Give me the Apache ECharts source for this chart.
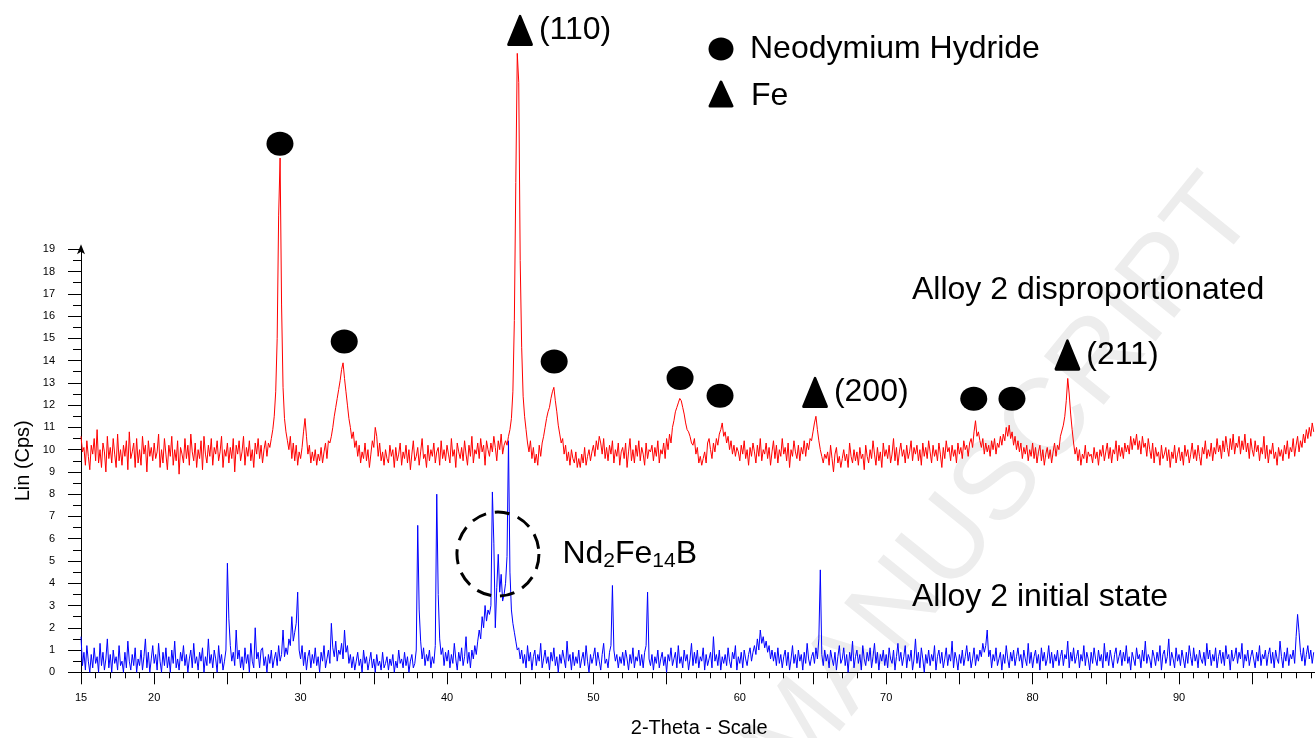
<!DOCTYPE html>
<html><head><meta charset="utf-8">
<script src="https://cdn.jsdelivr.net/npm/echarts@6/dist/echarts.min.js"></script>
<style>html,body{margin:0;padding:0;background:#fff}#chart{width:1315px;height:738px}</style>
</head><body><div id="chart"></div>
<script>
// sampling grid of the scans (2-theta, degrees)
const X_START = 15, X_STEP = 0.1;

// Alloy 2 disproportionated (red), one row per degree
const redCps = [
10.6,9.9,10.1,9.3,10.4,9.7,9.1,10.2,9.8,10.5,
9.5,10.9,9.4,10.0,9.2,10.3,9.9,9.0,10.6,9.6,
10.1,9.4,10.5,9.8,9.2,10.7,9.5,10.0,9.3,10.2,
9.7,10.4,9.1,10.8,9.6,9.9,10.3,9.2,10.5,9.4,
10.0,9.3,10.6,9.8,10.2,9.0,10.4,9.7,10.1,9.5,
10.3,9.6,9.9,10.7,9.2,10.0,9.4,10.5,9.8,9.1,
10.2,9.7,10.6,9.3,10.0,9.5,10.4,8.9,10.1,9.8,
9.4,10.5,9.6,10.2,9.3,10.7,9.9,9.5,10.3,9.2,
10.0,9.6,10.4,9.1,10.6,9.8,9.4,10.2,9.7,10.5,
9.3,10.1,9.8,10.4,9.5,9.9,10.6,9.2,10.0,9.7,
10.3,9.4,10.1,9.6,10.5,9.0,10.2,9.8,10.4,9.5,
9.9,10.6,9.3,10.1,9.7,10.4,9.5,10.0,9.2,10.3,
9.8,10.5,9.6,10.2,9.4,10.0,10.4,9.7,10.3,10.1,
10.5,10.9,11.5,12.6,15.0,20.5,23.1,16.5,12.8,11.4,
10.8,10.4,10.0,10.6,9.6,10.3,9.5,10.2,9.3,9.9,
9.6,10.1,10.8,11.4,10.6,9.8,10.2,9.4,9.9,9.5,
10.0,9.3,9.8,9.5,10.1,9.4,9.9,10.3,9.6,10.4,
10.3,10.6,11.0,11.5,11.9,12.3,12.7,13.1,13.6,13.9,
13.2,12.6,12.0,11.4,11.0,10.5,10.8,10.1,10.4,9.7,
10.2,9.4,9.9,9.6,10.3,9.5,10.0,9.2,9.8,10.4,
10.1,11.0,10.6,9.7,10.3,9.5,9.9,9.3,10.0,9.6,
9.4,10.2,9.7,10.0,9.2,10.1,9.5,9.8,10.3,9.3,
9.9,9.6,10.2,9.4,10.0,9.1,9.8,10.4,9.5,9.7,
10.1,9.3,9.9,10.5,9.6,9.8,9.2,10.2,9.5,10.0,
9.7,10.3,9.4,9.9,10.1,9.3,10.4,9.6,10.0,9.5,
10.2,9.8,9.4,10.5,9.7,10.0,9.2,10.3,9.9,9.6,
10.1,9.5,10.4,9.8,9.3,10.2,9.7,10.6,9.4,10.0,
9.8,10.3,9.6,10.5,9.9,10.2,9.3,10.4,10.0,9.7,
10.3,9.9,10.6,10.1,9.5,10.4,10.0,10.7,9.8,10.2,
10.4,10.2,10.6,10.9,11.4,12.6,15.8,22.0,27.8,26.5,
18.5,14.6,12.4,11.5,10.9,10.3,9.9,10.4,9.6,10.1,
9.4,9.8,9.3,10.2,9.7,10.3,10.6,11.0,11.4,11.7,
11.9,12.3,12.6,12.8,12.2,11.7,11.1,10.7,10.3,10.5,
9.8,10.2,9.5,9.9,9.3,10.0,9.6,9.4,9.9,9.2,
9.6,9.2,9.8,9.4,10.1,9.3,9.7,10.0,9.5,9.9,
10.2,9.7,10.4,10.0,10.6,10.3,9.8,10.5,9.6,10.1,
9.5,10.2,9.8,10.4,9.4,10.0,9.7,10.3,9.3,9.9,
10.1,9.6,10.3,9.2,9.9,10.5,9.5,10.0,9.4,10.2,
9.7,10.4,9.5,10.1,9.8,9.3,10.3,9.6,10.0,9.9,
10.2,9.5,10.1,9.7,10.4,9.4,10.0,9.8,10.3,9.6,
10.5,10.0,10.7,10.3,11.0,11.3,11.7,11.9,12.1,12.3,
12.2,11.9,11.6,11.2,10.9,10.8,10.6,10.3,10.2,10.5,
9.8,10.1,9.4,9.7,9.3,9.6,9.9,9.4,10.3,10.5,
10.0,9.6,10.3,9.9,10.5,10.2,10.7,10.9,11.2,10.6,
10.8,10.3,10.6,10.0,10.4,9.8,10.2,9.7,10.1,9.9,
9.5,10.2,9.8,10.4,9.6,10.0,9.3,10.1,9.7,10.3,
9.9,9.4,10.2,9.7,10.5,9.5,10.0,9.8,10.3,9.6,
10.1,9.3,9.9,10.4,9.6,10.2,9.4,10.0,9.7,10.5,
9.8,10.1,9.5,10.3,9.2,10.0,9.7,10.4,9.9,9.6,
10.2,9.5,10.1,9.8,10.4,9.7,10.3,10.0,10.5,10.4,
10.8,11.2,11.5,10.9,10.4,10.0,9.7,9.4,9.8,9.6,
9.9,9.3,10.2,9.6,9.0,9.8,10.1,9.4,9.7,9.2,
9.6,10.0,9.5,9.8,9.2,10.3,9.7,9.4,10.0,9.5,
9.9,9.3,10.1,9.6,9.8,9.1,10.2,9.7,9.4,10.0,
9.6,10.4,9.8,9.3,10.1,9.5,9.9,9.2,10.3,9.7,
10.0,9.6,10.2,9.4,9.8,10.5,9.5,10.1,9.3,9.9,
10.3,9.7,10.0,9.4,10.2,9.6,9.9,10.4,9.5,10.1,
9.8,10.2,9.5,10.0,9.3,10.3,9.7,10.1,9.6,10.4,
9.9,9.4,10.2,9.7,10.0,9.5,10.3,9.8,9.2,10.1,
9.6,10.4,9.9,10.1,9.5,10.2,9.7,10.0,9.4,10.3,
9.8,10.1,9.6,10.4,10.0,10.2,9.7,10.3,10.5,10.1,
10.8,11.3,10.6,10.8,10.4,10.1,10.5,9.8,10.3,9.9,
10.2,9.7,10.4,10.0,10.5,9.8,10.3,10.1,10.6,10.2,
10.7,10.4,11.0,10.6,11.1,10.5,10.8,10.2,10.6,10.0,
10.4,9.9,10.3,9.6,10.1,9.8,10.2,9.5,10.0,9.7,
10.3,9.6,10.1,9.4,9.9,10.2,9.5,10.0,9.3,9.8,
10.1,9.6,10.0,9.4,9.9,10.3,9.7,10.2,10.0,10.6,
10.6,11.1,11.5,12.2,13.2,12.5,11.6,10.9,10.3,9.8,
10.1,9.5,10.0,9.3,9.8,9.6,10.2,9.4,9.9,9.7,
9.8,9.4,10.1,9.6,9.9,9.3,10.0,9.7,10.2,9.5,
9.9,10.3,9.6,10.1,9.4,10.0,9.8,10.4,9.5,10.2,
9.7,10.1,9.6,10.3,9.9,10.2,9.8,10.6,10.0,10.5,
10.2,10.7,10.0,10.4,9.8,10.6,10.1,10.3,9.7,10.5,
10.0,9.6,10.3,9.4,10.1,9.7,9.9,9.3,10.2,9.6,
9.8,10.1,9.5,10.0,9.2,9.9,9.6,10.2,9.4,9.8,
10.1,9.5,9.9,9.3,10.2,9.7,10.0,9.4,9.8,10.3,
9.6,10.0,9.5,10.2,9.7,9.3,10.1,9.8,10.4,9.6,
10.0,9.7,10.3,9.5,10.1,9.8,10.5,9.9,10.2,9.6,
10.4,9.9,10.6,10.1,9.7,10.5,10.0,10.7,9.8,10.3,
10.1,10.6,9.8,10.4,10.0,10.7,9.9,10.3,9.6,10.5,
10.0,9.7,10.4,9.9,10.2,9.5,10.1,9.8,10.6,9.6,
10.2,9.4,10.0,9.8,10.3,9.6,9.9,9.3,10.1,9.7,
10.0,9.5,10.2,9.8,10.4,9.6,10.1,9.9,10.5,9.7,
10.2,10.6,9.9,10.4,10.1,10.7,10.3,10.9,10.5,11.0,
10.6,11.2,10.8
];

// Alloy 2 initial state (blue), one row per degree
const blueCps = [
1.6,0.3,0.9,0.1,1.2,0.5,0.0,0.8,0.2,1.1,
0.4,0.7,0.0,1.3,0.3,0.9,0.1,0.6,1.5,0.2,
0.8,0.0,1.0,0.4,0.7,0.1,1.2,0.3,0.5,0.0,
0.9,0.2,1.4,0.5,0.1,0.8,0.3,1.1,0.0,0.6,
0.3,1.0,0.1,0.7,1.5,0.2,0.9,0.0,0.6,1.2,
0.4,0.8,0.1,1.3,0.5,0.0,0.9,0.3,1.1,0.2,
0.7,0.0,1.0,0.4,1.4,0.2,0.6,0.1,0.9,0.5,
1.2,0.3,0.8,0.0,0.6,1.0,0.2,1.3,0.4,0.7,
0.1,0.9,0.5,1.1,0.0,0.7,0.3,1.5,0.4,0.8,
0.2,1.0,0.6,0.0,1.2,0.4,0.8,0.1,0.5,1.0,
4.9,2.4,1.2,0.5,0.9,0.3,1.9,0.6,1.0,0.2,
0.7,0.1,1.1,0.4,0.8,0.0,1.3,0.5,0.2,2.0,
0.6,0.9,0.2,1.0,1.1,0.3,0.7,0.0,0.8,0.4,
1.0,0.2,0.6,0.9,0.3,1.2,0.5,0.8,1.9,0.7,
1.1,0.8,1.5,1.2,2.5,1.4,1.8,2.2,3.6,1.0,
0.6,1.2,0.3,0.9,0.1,0.7,1.0,0.2,0.8,0.4,
1.1,0.3,0.7,0.0,0.9,0.5,1.2,0.2,0.6,1.0,
0.4,2.2,1.1,0.7,1.4,0.5,1.0,0.8,1.3,0.6,
1.9,0.9,1.2,0.4,0.8,0.2,0.7,0.1,0.5,0.9,
0.3,0.6,0.0,1.0,0.4,0.7,0.1,0.5,0.9,0.2,
0.6,0.0,0.8,0.3,0.5,0.1,0.9,0.2,0.4,0.7,
0.1,0.6,0.3,0.8,0.0,0.5,0.2,1.0,0.4,0.6,
0.2,0.9,0.3,0.7,0.0,0.5,0.8,0.2,0.4,1.0,
6.6,2.8,1.4,0.6,1.1,0.3,0.8,0.5,1.0,0.2,
0.7,0.4,1.2,8.0,3.5,1.5,0.8,1.1,0.3,0.9,
0.5,1.0,0.2,0.8,0.4,1.3,0.6,0.1,0.9,0.5,
1.1,0.3,0.7,1.6,0.4,0.9,0.2,1.0,0.6,1.2,
0.8,1.4,1.9,1.5,2.5,2.0,3.0,2.3,2.8,2.6,
3.0,8.1,5.8,2.0,3.8,5.3,3.6,4.4,3.2,3.5,
4.0,5.2,10.4,4.5,2.8,2.2,1.8,1.4,1.0,1.1,
0.6,1.0,0.4,0.8,0.2,1.2,0.5,0.9,0.1,0.7,
1.0,0.3,0.8,0.5,1.3,0.2,0.6,1.0,0.4,0.7,
0.1,0.9,0.5,1.1,0.3,0.7,0.0,0.8,0.4,1.0,
0.6,0.2,1.4,0.5,0.8,0.1,0.9,0.3,0.7,0.4,
1.0,0.2,0.6,0.9,0.3,1.2,0.5,0.0,0.8,0.4,
0.7,1.1,0.3,0.9,0.5,0.1,0.8,1.3,0.4,0.6,
0.2,0.9,1.2,3.9,1.0,0.5,0.8,0.2,0.7,0.4,
0.9,0.3,1.0,0.6,0.1,0.8,0.4,1.1,0.2,0.7,
0.5,1.0,0.3,0.8,0.2,0.9,1.2,3.6,0.6,0.3,
0.8,0.1,0.7,0.4,1.0,0.2,0.6,0.9,0.3,0.7,
0.0,0.8,0.5,1.1,0.3,0.6,0.9,0.2,1.2,0.4,
0.7,0.2,1.0,0.5,0.8,0.1,0.6,1.3,0.3,0.9,
0.4,1.0,0.2,0.7,0.5,1.1,0.1,0.8,0.3,0.6,
0.9,0.2,1.6,0.5,0.8,0.3,1.0,0.1,0.7,0.4,
0.8,0.3,1.1,0.5,0.2,0.9,0.6,1.2,0.1,0.7,
0.4,0.9,0.2,1.0,0.6,0.3,0.8,1.1,0.5,0.9,
1.2,0.8,1.5,1.0,1.9,1.3,1.6,1.1,1.4,0.9,
1.2,0.6,1.0,0.5,0.9,0.3,1.1,0.4,0.8,0.2,
0.7,1.0,0.3,0.9,0.1,0.6,1.2,0.4,0.8,0.2,
1.0,0.5,0.8,0.1,0.9,0.4,1.3,0.6,0.3,0.7,
0.9,0.4,1.1,0.6,1.5,4.6,0.8,0.3,1.0,0.5,
0.8,0.2,1.0,0.6,0.3,0.9,0.1,0.7,1.2,0.4,
0.6,1.1,0.3,0.8,0.0,0.9,0.5,1.4,0.2,0.7,
1.0,0.4,0.8,0.1,1.2,0.6,0.3,0.9,0.5,1.1,
0.2,0.7,1.3,0.4,0.9,0.1,0.8,0.5,1.0,0.3,
0.8,0.2,1.1,0.6,0.4,1.0,0.1,0.7,1.3,0.5,
0.9,0.3,0.7,1.2,0.2,0.8,0.5,1.0,0.1,0.6,
1.5,0.4,0.9,0.2,1.1,0.6,0.0,0.8,0.4,1.0,
0.3,0.8,0.5,1.2,0.1,0.7,1.0,0.4,0.9,0.2,
0.6,1.1,0.3,0.8,0.5,1.4,0.2,0.9,0.6,0.1,
0.8,0.4,1.0,0.3,0.7,1.2,0.5,0.9,0.2,0.6,
1.1,0.3,0.8,0.5,1.0,0.7,1.3,0.9,1.2,1.9,
0.7,1.0,0.2,0.8,0.5,1.1,0.3,0.6,0.9,0.1,
0.8,0.4,1.2,0.6,0.2,0.9,0.5,1.0,0.3,0.7,
1.1,0.5,0.8,0.2,1.0,0.6,0.3,1.3,0.4,0.9,
0.2,0.7,1.0,0.4,0.8,0.1,1.1,0.5,0.9,0.3,
0.6,1.2,0.4,0.9,0.2,0.8,0.5,1.0,0.3,0.7,
1.0,0.3,0.8,0.6,1.4,0.2,0.9,0.5,1.1,0.4,
0.7,1.0,0.2,0.8,0.5,1.2,0.3,0.9,0.6,0.1,
0.9,0.4,1.1,0.6,0.3,1.0,0.5,0.8,0.2,1.3,
0.5,0.9,0.3,1.0,0.6,0.2,0.8,1.1,0.4,0.7,
1.0,0.3,0.9,0.5,1.2,0.4,0.7,0.1,0.9,0.6,
0.3,1.1,0.6,0.8,0.2,1.0,0.5,1.4,0.4,0.8,
0.6,0.2,1.0,0.7,0.3,0.9,0.5,1.2,0.1,0.8,
1.0,0.4,0.7,1.5,0.3,0.9,0.6,0.2,1.1,0.5,
0.8,0.3,1.0,0.6,0.2,0.9,0.4,1.2,0.7,0.3,
1.1,0.5,0.8,0.2,1.0,0.6,0.4,0.9,0.3,1.3,
0.6,1.0,0.3,0.8,0.5,1.1,0.2,0.7,1.0,0.4,
0.9,0.3,1.2,0.6,0.8,0.1,1.0,0.5,0.7,1.1,
0.4,0.9,0.6,1.3,0.2,0.8,0.5,1.0,0.3,0.7,
1.0,0.6,0.2,0.9,0.5,1.2,0.3,0.8,0.6,1.0,
0.3,0.8,1.1,0.4,0.9,0.2,1.0,0.6,0.4,1.4,
0.7,0.2,0.9,0.5,1.1,0.3,0.8,0.6,1.0,0.4,
1.6,2.6,1.8,0.9,0.5,1.1,0.3,0.8,1.2,0.6,
1.0,0.4,0.9
];

// peak annotation anchors [2-theta, Cps]
const hydrideMarks = [[28.59,23.74],[32.98,14.86],[47.32,13.96],[55.92,13.22],[58.65,12.42],[75.98,12.29],[78.59,12.29]];
const feMarks = [[44.99,28.83],[65.14,12.57],[82.38,14.25]];
const feLabels = ['(110)','(200)','(211)'];
const nd2fe14bMark = [43.48,5.31];
const xLabelValues = [15,20,30,40,50,60,70,80,90];

const FONT = '"Liberation Sans", Arial, Helvetica, sans-serif';
const toPairs = arr => arr.map((v,i) => [Math.round((X_START + i*X_STEP)*10)/10, v]);

const chart = echarts.init(document.getElementById('chart'), null, {renderer:'canvas'});
const option = {
  animation: false,
  backgroundColor: '#fff',
  textStyle: {fontFamily: FONT},
  grid: {left: 81, width: 1244.4, top: 249.3, height: 423, containLabel: false, outerBoundsMode: 'none'},
  xAxis: {
    type: 'value', min: 15, max: 100, interval: 5,
    name: '2-Theta - Scale', nameLocation: 'middle', nameGap: 46, nameMoveOverlap: false,
    nameTextStyle: {fontSize: 20, color: '#000', fontFamily: FONT, padding: [0, 8, 0, 0]},
    axisLine: {show: true, onZero: false, lineStyle: {color: '#000', width: 1}},
    axisTick: {show: true, length: 12, lineStyle: {color: '#000', width: 1}},
    minorTick: {show: true, splitNumber: 5, length: 6, lineStyle: {color: '#000', width: 1}},
    axisLabel: {fontSize: 11, color: '#000', margin: 20, fontFamily: FONT, hideOverlap: false,
      formatter: v => xLabelValues.indexOf(Math.round(v)) >= 0 && Math.abs(v - Math.round(v)) < 1e-6 ? String(Math.round(v)) : ''},
    splitLine: {show: false}
  },
  yAxis: {
    type: 'value', min: 0, max: 19, interval: 1,
    name: 'Lin (Cps)', nameLocation: 'middle', nameGap: 48, nameMoveOverlap: false,
    nameTextStyle: {fontSize: 20, color: '#000', fontFamily: FONT},
    axisLine: {show: true, onZero: false, lineStyle: {color: '#000', width: 1},
      symbol: ['none', 'arrow'], symbolSize: [6, 10], symbolOffset: [0, 5]},
    axisTick: {show: true, length: 13, lineStyle: {color: '#000', width: 1}},
    minorTick: {show: true, splitNumber: 2, length: 8, lineStyle: {color: '#000', width: 1}},
    axisLabel: {fontSize: 11, color: '#000', margin: 26, fontFamily: FONT, hideOverlap: false},
    splitLine: {show: false}
  },
  series: [
    {name: 'Alloy 2 initial state', type: 'line', data: toPairs(blueCps), showSymbol: false, clip: false,
     lineStyle: {color: '#0000ff', width: 1}, itemStyle: {color: '#0000ff'}, z: 2, silent: true},
    {name: 'Alloy 2 disproportionated', type: 'line', data: toPairs(redCps), showSymbol: false, clip: false,
     lineStyle: {color: '#ff0000', width: 1}, itemStyle: {color: '#ff0000'}, z: 2, silent: true},
    {name: 'Neodymium Hydride', type: 'scatter', data: hydrideMarks, symbol: 'circle', symbolSize: [27, 24],
     itemStyle: {color: '#000', opacity: 1}, clip: false, z: 5, silent: true},
    {name: 'Fe', type: 'scatter', symbol: 'triangle', symbolSize: [23, 28], clip: false, z: 5, silent: true,
     data: feMarks.map((p, i) => ({value: p, name: feLabels[i]})),
     itemStyle: {color: '#000', opacity: 1, borderColor: '#000', borderWidth: 3, borderJoin: 'round'},
     label: {show: true, position: 'right', distance: 6, formatter: '{b}', fontSize: 32, color: '#000', fontFamily: FONT, opacity: 1}},
    {name: 'Nd2Fe14B', type: 'scatter', data: [nd2fe14bMark], symbol: 'circle', symbolSize: [82, 84], clip: false, z: 6, silent: true,
     itemStyle: {color: 'rgba(0,0,0,0)', opacity: 1, borderColor: '#000', borderWidth: 3, borderType: [15, 9]},
     label: {show: true, position: 'right', distance: 22, color: '#000', fontFamily: FONT, opacity: 1,
       formatter: '{n|Nd}{s|2}{n|Fe}{s|14}{n|B}',
       rich: {n: {fontSize: 32, fontFamily: FONT, color: '#000'},
              s: {fontSize: 21, fontFamily: FONT, color: '#000', padding: [14, 0, 0, 0]}}}}
  ],
  graphic: [
    {type: 'text', x: 812, y: 805, rotation: 0.89, z: -10, silent: true,
     style: {text: 'MANUSCRIPT', fontSize: 112, fontFamily: FONT, fill: '#ededed', verticalAlign: 'bottom', align: 'left'}},
    {type: 'ellipse', shape: {cx: 721, cy: 49, rx: 12.5, ry: 11.5}, style: {fill: '#000'}},
    {type: 'polygon', shape: {points: [[721, 82], [732, 106], [710, 106]]},
     style: {fill: '#000', stroke: '#000', lineWidth: 3, lineJoin: 'round'}},
    {type: 'text', x: 750, y: 49, style: {text: 'Neodymium Hydride', fontSize: 32, fontFamily: FONT, fill: '#000', verticalAlign: 'middle'}},
    {type: 'text', x: 751, y: 96, style: {text: 'Fe', fontSize: 32, fontFamily: FONT, fill: '#000', verticalAlign: 'middle'}},
    {type: 'text', x: 912, y: 290, style: {text: 'Alloy 2 disproportionated', fontSize: 32, fontFamily: FONT, fill: '#000', verticalAlign: 'middle'}},
    {type: 'text', x: 912, y: 597, style: {text: 'Alloy 2 initial state', fontSize: 32, fontFamily: FONT, fill: '#000', verticalAlign: 'middle'}}
  ]
};
chart.setOption(option);
</script>
</body></html>
